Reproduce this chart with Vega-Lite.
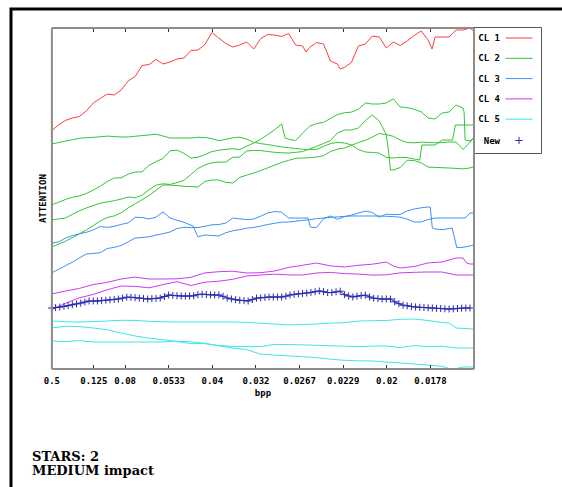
{
"$schema":"https://vega.github.io/schema/vega-lite/v6.json",
"width":551,"height":478,
"padding":{"left":11,"top":9,"right":0,"bottom":0},
"autosize":{"type":"none"},
"background":"white",
"config":{"view":{"stroke":"black","strokeWidth":3,"strokeDash":[551,1029,478]},"axis":{"grid":false}},
"title":{"text":["STARS: 2","MEDIUM impact"],"orient":"bottom","anchor":"start","frame":"group","font":"DejaVu Serif","fontSize":13,"fontWeight":"bold","color":"black","dx":21,"dy":-26,"offset":0,"baseline":"alphabetic","lineHeight":14},
"datasets":{"d":[
{"c":"CL 1","l":"a","x":2,"y":237.5},{"c":"CL 1","l":"a","x":3,"y":243.5},{"c":"CL 1","l":"a","x":4,"y":248},{"c":"CL 1","l":"a","x":5,"y":250.5},{"c":"CL 1","l":"a","x":6,"y":252},{"c":"CL 1","l":"a","x":7,"y":257.5},{"c":"CL 1","l":"a","x":8,"y":265.5},{"c":"CL 1","l":"a","x":9,"y":270},{"c":"CL 1","l":"a","x":10,"y":274.5},{"c":"CL 1","l":"a","x":11,"y":273.5},{"c":"CL 1","l":"a","x":12,"y":278.5},{"c":"CL 1","l":"a","x":13,"y":287.5},{"c":"CL 1","l":"a","x":14,"y":292},{"c":"CL 1","l":"a","x":15,"y":303},{"c":"CL 1","l":"a","x":16,"y":304},{"c":"CL 1","l":"a","x":17,"y":309},{"c":"CL 1","l":"a","x":18,"y":304.5},{"c":"CL 1","l":"a","x":19,"y":306.5},{"c":"CL 1","l":"a","x":20,"y":309.5},{"c":"CL 1","l":"a","x":21,"y":310.5},{"c":"CL 1","l":"a","x":22,"y":318},{"c":"CL 1","l":"a","x":23,"y":318.5},{"c":"CL 1","l":"a","x":24,"y":324},{"c":"CL 1","l":"a","x":25,"y":336},{"c":"CL 1","l":"a","x":26,"y":330.5},{"c":"CL 1","l":"a","x":27,"y":325},{"c":"CL 1","l":"a","x":28,"y":321.5},{"c":"CL 1","l":"a","x":29,"y":323.5},{"c":"CL 1","l":"a","x":30,"y":326.5},{"c":"CL 1","l":"a","x":31,"y":319.5},{"c":"CL 1","l":"a","x":32,"y":330},{"c":"CL 1","l":"a","x":33,"y":334},{"c":"CL 1","l":"a","x":34,"y":333.5},{"c":"CL 1","l":"a","x":35,"y":332},{"c":"CL 1","l":"a","x":36,"y":335},{"c":"CL 1","l":"a","x":37,"y":323.5},{"c":"CL 1","l":"a","x":38,"y":322.5},{"c":"CL 1","l":"a","x":38.5,"y":316.5},{"c":"CL 1","l":"a","x":39,"y":321},{"c":"CL 1","l":"a","x":40,"y":326},{"c":"CL 1","l":"a","x":41,"y":324.5},{"c":"CL 1","l":"a","x":42,"y":307.5},{"c":"CL 1","l":"a","x":43,"y":304.5},{"c":"CL 1","l":"a","x":43.4,"y":299.5},{"c":"CL 1","l":"a","x":44,"y":301},{"c":"CL 1","l":"a","x":45,"y":306},{"c":"CL 1","l":"a","x":46,"y":322.5},{"c":"CL 1","l":"a","x":47,"y":324.5},{"c":"CL 1","l":"a","x":48,"y":332.5},{"c":"CL 1","l":"a","x":49,"y":331.5},{"c":"CL 1","l":"a","x":50,"y":320.5},{"c":"CL 1","l":"a","x":51,"y":326.5},{"c":"CL 1","l":"a","x":52,"y":323},{"c":"CL 1","l":"a","x":53,"y":327.5},{"c":"CL 1","l":"a","x":54,"y":333},{"c":"CL 1","l":"a","x":55,"y":337.5},{"c":"CL 1","l":"a","x":56,"y":328.5},{"c":"CL 1","l":"a","x":56.55,"y":319.5},{"c":"CL 1","l":"a","x":57,"y":331.5},{"c":"CL 1","l":"a","x":58,"y":331.5},{"c":"CL 1","l":"a","x":59,"y":331.5},{"c":"CL 1","l":"a","x":60,"y":338.5},{"c":"CL 1","l":"a","x":61,"y":338.5},{"c":"CL 1","l":"a","x":62,"y":340.5},{"c":"CL 1","l":"a","x":62.5,"y":337.5},
{"c":"CL 2","l":"g1","x":2,"y":224.5},{"c":"CL 2","l":"g1","x":3,"y":225.9},{"c":"CL 2","l":"g1","x":4,"y":227.4},{"c":"CL 2","l":"g1","x":5,"y":228.7},{"c":"CL 2","l":"g1","x":6,"y":230.3},{"c":"CL 2","l":"g1","x":7,"y":230.8},{"c":"CL 2","l":"g1","x":8,"y":231.2},{"c":"CL 2","l":"g1","x":9,"y":231.7},{"c":"CL 2","l":"g1","x":10,"y":232.4},{"c":"CL 2","l":"g1","x":11,"y":231.9},{"c":"CL 2","l":"g1","x":12,"y":231.5},{"c":"CL 2","l":"g1","x":13,"y":231.5},{"c":"CL 2","l":"g1","x":14,"y":232.2},{"c":"CL 2","l":"g1","x":15,"y":232.9},{"c":"CL 2","l":"g1","x":16,"y":233.6},{"c":"CL 2","l":"g1","x":17,"y":234.3},{"c":"CL 2","l":"g1","x":18,"y":232.5},{"c":"CL 2","l":"g1","x":19,"y":230.5},{"c":"CL 2","l":"g1","x":20,"y":230.5},{"c":"CL 2","l":"g1","x":21,"y":230.5},{"c":"CL 2","l":"g1","x":22,"y":230.5},{"c":"CL 2","l":"g1","x":23,"y":231.2},{"c":"CL 2","l":"g1","x":24,"y":231},{"c":"CL 2","l":"g1","x":25,"y":229.9},{"c":"CL 2","l":"g1","x":26,"y":227.8},{"c":"CL 2","l":"g1","x":27,"y":229.2},{"c":"CL 2","l":"g1","x":28,"y":230.7},{"c":"CL 2","l":"g1","x":29,"y":231.3},{"c":"CL 2","l":"g1","x":30,"y":229.4},{"c":"CL 2","l":"g1","x":31,"y":226.1},{"c":"CL 2","l":"g1","x":32,"y":224.9},{"c":"CL 2","l":"g1","x":33,"y":223.9},{"c":"CL 2","l":"g1","x":34,"y":222.8},{"c":"CL 2","l":"g1","x":35,"y":221.6},{"c":"CL 2","l":"g1","x":36,"y":220.8},{"c":"CL 2","l":"g1","x":37,"y":220},{"c":"CL 2","l":"g1","x":38,"y":219.3},{"c":"CL 2","l":"g1","x":39,"y":218.9},{"c":"CL 2","l":"g1","x":40,"y":219.1},{"c":"CL 2","l":"g1","x":41,"y":222},{"c":"CL 2","l":"g1","x":42,"y":224.9},{"c":"CL 2","l":"g1","x":43,"y":226.2},{"c":"CL 2","l":"g1","x":44,"y":225.5},{"c":"CL 2","l":"g1","x":45,"y":223.6},{"c":"CL 2","l":"g1","x":46,"y":219},{"c":"CL 2","l":"g1","x":47,"y":216.5},{"c":"CL 2","l":"g1","x":48,"y":216},{"c":"CL 2","l":"g1","x":49,"y":215.3},{"c":"CL 2","l":"g1","x":50,"y":211.2},{"c":"CL 2","l":"g1","x":51,"y":210.5},{"c":"CL 2","l":"g1","x":52,"y":211.2},{"c":"CL 2","l":"g1","x":53,"y":210.9},{"c":"CL 2","l":"g1","x":54,"y":209.5},{"c":"CL 2","l":"g1","x":54.8,"y":208.5},{"c":"CL 2","l":"g1","x":55.1,"y":223.5},{"c":"CL 2","l":"g1","x":56,"y":223.5},{"c":"CL 2","l":"g1","x":57,"y":223.5},{"c":"CL 2","l":"g1","x":58,"y":228.5},{"c":"CL 2","l":"g1","x":59,"y":228.5},{"c":"CL 2","l":"g1","x":59.5,"y":228.5},{"c":"CL 2","l":"g1","x":59.9,"y":243.5},{"c":"CL 2","l":"g1","x":60,"y":243.5},{"c":"CL 2","l":"g1","x":61,"y":243.5},{"c":"CL 2","l":"g1","x":62,"y":243.5},{"c":"CL 2","l":"g1","x":62.5,"y":243.5},
{"c":"CL 2","l":"g2","x":2,"y":163.5},{"c":"CL 2","l":"g2","x":3,"y":166.1},{"c":"CL 2","l":"g2","x":4,"y":169},{"c":"CL 2","l":"g2","x":5,"y":171.2},{"c":"CL 2","l":"g2","x":6,"y":172.6},{"c":"CL 2","l":"g2","x":7,"y":175},{"c":"CL 2","l":"g2","x":8,"y":178.5},{"c":"CL 2","l":"g2","x":9,"y":182.3},{"c":"CL 2","l":"g2","x":10,"y":186.9},{"c":"CL 2","l":"g2","x":11,"y":190.5},{"c":"CL 2","l":"g2","x":12,"y":190.7},{"c":"CL 2","l":"g2","x":13,"y":194.3},{"c":"CL 2","l":"g2","x":14,"y":196.5},{"c":"CL 2","l":"g2","x":15,"y":196.7},{"c":"CL 2","l":"g2","x":16,"y":203.2},{"c":"CL 2","l":"g2","x":17,"y":206.9},{"c":"CL 2","l":"g2","x":18,"y":210},{"c":"CL 2","l":"g2","x":19,"y":217.7},{"c":"CL 2","l":"g2","x":20,"y":218.4},{"c":"CL 2","l":"g2","x":21,"y":215.1},{"c":"CL 2","l":"g2","x":22,"y":210.5},{"c":"CL 2","l":"g2","x":23,"y":211.3},{"c":"CL 2","l":"g2","x":24,"y":213.9},{"c":"CL 2","l":"g2","x":25,"y":216.9},{"c":"CL 2","l":"g2","x":26,"y":218.3},{"c":"CL 2","l":"g2","x":27,"y":219.2},{"c":"CL 2","l":"g2","x":28,"y":219.7},{"c":"CL 2","l":"g2","x":29,"y":219},{"c":"CL 2","l":"g2","x":30,"y":222.4},{"c":"CL 2","l":"g2","x":31,"y":225.4},{"c":"CL 2","l":"g2","x":32,"y":229.3},{"c":"CL 2","l":"g2","x":33,"y":234},{"c":"CL 2","l":"g2","x":34,"y":238.7},{"c":"CL 2","l":"g2","x":35,"y":244.5},{"c":"CL 2","l":"g2","x":35.5,"y":230.5},{"c":"CL 2","l":"g2","x":36,"y":229.4},{"c":"CL 2","l":"g2","x":37,"y":227.9},{"c":"CL 2","l":"g2","x":38,"y":235.4},{"c":"CL 2","l":"g2","x":39,"y":242.2},{"c":"CL 2","l":"g2","x":40,"y":245},{"c":"CL 2","l":"g2","x":41,"y":246.1},{"c":"CL 2","l":"g2","x":42,"y":250},{"c":"CL 2","l":"g2","x":43,"y":254},{"c":"CL 2","l":"g2","x":44,"y":255.7},{"c":"CL 2","l":"g2","x":45,"y":256.4},{"c":"CL 2","l":"g2","x":46,"y":259.2},{"c":"CL 2","l":"g2","x":47,"y":265.5},{"c":"CL 2","l":"g2","x":48,"y":264.5},{"c":"CL 2","l":"g2","x":49,"y":264.5},{"c":"CL 2","l":"g2","x":50,"y":265.5},{"c":"CL 2","l":"g2","x":51,"y":269.7},{"c":"CL 2","l":"g2","x":52,"y":261.5},{"c":"CL 2","l":"g2","x":53,"y":260.9},{"c":"CL 2","l":"g2","x":54,"y":259.2},{"c":"CL 2","l":"g2","x":55,"y":256.7},{"c":"CL 2","l":"g2","x":56,"y":250.5},{"c":"CL 2","l":"g2","x":57,"y":249.5},{"c":"CL 2","l":"g2","x":58,"y":255.5},{"c":"CL 2","l":"g2","x":59,"y":256.5},{"c":"CL 2","l":"g2","x":60,"y":263.5},{"c":"CL 2","l":"g2","x":61,"y":260.5},{"c":"CL 2","l":"g2","x":61.15,"y":256.5},{"c":"CL 2","l":"g2","x":61.3,"y":228.5},{"c":"CL 2","l":"g2","x":62,"y":227.5},{"c":"CL 2","l":"g2","x":62.5,"y":230.5},
{"c":"CL 2","l":"g3","x":2,"y":148.5},{"c":"CL 2","l":"g3","x":3,"y":149.5},{"c":"CL 2","l":"g3","x":4,"y":150.5},{"c":"CL 2","l":"g3","x":5,"y":154.1},{"c":"CL 2","l":"g3","x":6,"y":157.6},{"c":"CL 2","l":"g3","x":7,"y":160.5},{"c":"CL 2","l":"g3","x":8,"y":163},{"c":"CL 2","l":"g3","x":9,"y":165.3},{"c":"CL 2","l":"g3","x":10,"y":166.6},{"c":"CL 2","l":"g3","x":11,"y":167.8},{"c":"CL 2","l":"g3","x":12,"y":169.4},{"c":"CL 2","l":"g3","x":13,"y":171.5},{"c":"CL 2","l":"g3","x":14,"y":170.8},{"c":"CL 2","l":"g3","x":15,"y":173.4},{"c":"CL 2","l":"g3","x":16,"y":178.8},{"c":"CL 2","l":"g3","x":17,"y":183.3},{"c":"CL 2","l":"g3","x":18,"y":184.7},{"c":"CL 2","l":"g3","x":19,"y":184.1},{"c":"CL 2","l":"g3","x":20,"y":185.8},{"c":"CL 2","l":"g3","x":21,"y":188.2},{"c":"CL 2","l":"g3","x":22,"y":194},{"c":"CL 2","l":"g3","x":23,"y":200},{"c":"CL 2","l":"g3","x":24,"y":203.5},{"c":"CL 2","l":"g3","x":25,"y":205.7},{"c":"CL 2","l":"g3","x":26,"y":206.4},{"c":"CL 2","l":"g3","x":27,"y":206.5},{"c":"CL 2","l":"g3","x":28,"y":211.2},{"c":"CL 2","l":"g3","x":29,"y":211.5},{"c":"CL 2","l":"g3","x":30,"y":217.5},{"c":"CL 2","l":"g3","x":31,"y":218},{"c":"CL 2","l":"g3","x":32,"y":218},{"c":"CL 2","l":"g3","x":33,"y":217},{"c":"CL 2","l":"g3","x":34,"y":216.2},{"c":"CL 2","l":"g3","x":35,"y":215.7},{"c":"CL 2","l":"g3","x":36,"y":215.5},{"c":"CL 2","l":"g3","x":37,"y":216.1},{"c":"CL 2","l":"g3","x":38,"y":217},{"c":"CL 2","l":"g3","x":39,"y":219.5},{"c":"CL 2","l":"g3","x":40,"y":222.1},{"c":"CL 2","l":"g3","x":41,"y":225},{"c":"CL 2","l":"g3","x":42,"y":227.9},{"c":"CL 2","l":"g3","x":43,"y":235.5},{"c":"CL 2","l":"g3","x":44,"y":238.5},{"c":"CL 2","l":"g3","x":45,"y":238.5},{"c":"CL 2","l":"g3","x":46,"y":240.5},{"c":"CL 2","l":"g3","x":47,"y":248},{"c":"CL 2","l":"g3","x":48,"y":253.5},{"c":"CL 2","l":"g3","x":49,"y":247.5},{"c":"CL 2","l":"g3","x":50,"y":234},{"c":"CL 2","l":"g3","x":50.3,"y":218.5},{"c":"CL 2","l":"g3","x":50.6,"y":198.5},{"c":"CL 2","l":"g3","x":51,"y":198.5},{"c":"CL 2","l":"g3","x":52,"y":201},{"c":"CL 2","l":"g3","x":53,"y":208.3},{"c":"CL 2","l":"g3","x":54,"y":207.9},{"c":"CL 2","l":"g3","x":55,"y":205.7},{"c":"CL 2","l":"g3","x":56,"y":201.4},{"c":"CL 2","l":"g3","x":57,"y":201.1},{"c":"CL 2","l":"g3","x":58,"y":200.8},{"c":"CL 2","l":"g3","x":59,"y":200.5},{"c":"CL 2","l":"g3","x":60,"y":200.1},{"c":"CL 2","l":"g3","x":61,"y":199.6},{"c":"CL 2","l":"g3","x":62,"y":200.6},{"c":"CL 2","l":"g3","x":62.5,"y":201.5},
{"c":"CL 2","l":"g4","x":2,"y":121.5},{"c":"CL 2","l":"g4","x":3,"y":124.3},{"c":"CL 2","l":"g4","x":4,"y":127.2},{"c":"CL 2","l":"g4","x":5,"y":130.9},{"c":"CL 2","l":"g4","x":6,"y":134.6},{"c":"CL 2","l":"g4","x":7,"y":138.6},{"c":"CL 2","l":"g4","x":8,"y":142.9},{"c":"CL 2","l":"g4","x":9,"y":147.5},{"c":"CL 2","l":"g4","x":10,"y":151},{"c":"CL 2","l":"g4","x":11,"y":152.6},{"c":"CL 2","l":"g4","x":12,"y":155.7},{"c":"CL 2","l":"g4","x":13,"y":160.6},{"c":"CL 2","l":"g4","x":14,"y":164.6},{"c":"CL 2","l":"g4","x":15,"y":168.8},{"c":"CL 2","l":"g4","x":16,"y":173.1},{"c":"CL 2","l":"g4","x":17,"y":178.2},{"c":"CL 2","l":"g4","x":18,"y":183.5},{"c":"CL 2","l":"g4","x":19,"y":183.5},{"c":"CL 2","l":"g4","x":20,"y":182.9},{"c":"CL 2","l":"g4","x":21,"y":182.2},{"c":"CL 2","l":"g4","x":22,"y":182},{"c":"CL 2","l":"g4","x":23,"y":181.4},{"c":"CL 2","l":"g4","x":24,"y":187},{"c":"CL 2","l":"g4","x":25,"y":188.5},{"c":"CL 2","l":"g4","x":26,"y":188.5},{"c":"CL 2","l":"g4","x":27,"y":186.2},{"c":"CL 2","l":"g4","x":28,"y":185.5},{"c":"CL 2","l":"g4","x":29,"y":191.1},{"c":"CL 2","l":"g4","x":30,"y":193.4},{"c":"CL 2","l":"g4","x":31,"y":195.5},{"c":"CL 2","l":"g4","x":32,"y":197.9},{"c":"CL 2","l":"g4","x":33,"y":200.6},{"c":"CL 2","l":"g4","x":34,"y":203.3},{"c":"CL 2","l":"g4","x":35,"y":206.1},{"c":"CL 2","l":"g4","x":36,"y":208.1},{"c":"CL 2","l":"g4","x":37,"y":210.1},{"c":"CL 2","l":"g4","x":38,"y":210.5},{"c":"CL 2","l":"g4","x":39,"y":210.8},{"c":"CL 2","l":"g4","x":40,"y":211.5},{"c":"CL 2","l":"g4","x":41,"y":212.8},{"c":"CL 2","l":"g4","x":42,"y":217},{"c":"CL 2","l":"g4","x":43,"y":219.3},{"c":"CL 2","l":"g4","x":44,"y":220.5},{"c":"CL 2","l":"g4","x":45,"y":223.1},{"c":"CL 2","l":"g4","x":46,"y":225.9},{"c":"CL 2","l":"g4","x":47,"y":228.2},{"c":"CL 2","l":"g4","x":48,"y":231.5},{"c":"CL 2","l":"g4","x":49,"y":235},{"c":"CL 2","l":"g4","x":50,"y":233.9},{"c":"CL 2","l":"g4","x":51,"y":232.2},{"c":"CL 2","l":"g4","x":52,"y":228.5},{"c":"CL 2","l":"g4","x":53,"y":226},{"c":"CL 2","l":"g4","x":54,"y":225.7},{"c":"CL 2","l":"g4","x":55,"y":226.4},{"c":"CL 2","l":"g4","x":56,"y":226.1},{"c":"CL 2","l":"g4","x":57,"y":225.7},{"c":"CL 2","l":"g4","x":58,"y":225.9},{"c":"CL 2","l":"g4","x":59,"y":226.5},{"c":"CL 2","l":"g4","x":60,"y":226.5},{"c":"CL 2","l":"g4","x":61,"y":219},{"c":"CL 2","l":"g4","x":62,"y":226.2},{"c":"CL 2","l":"g4","x":62.5,"y":230.5},
{"c":"CL 3","l":"b1","x":2,"y":125.5},{"c":"CL 3","l":"b1","x":3,"y":126.5},{"c":"CL 3","l":"b1","x":4,"y":130.3},{"c":"CL 3","l":"b1","x":5,"y":132.8},{"c":"CL 3","l":"b1","x":6,"y":134.8},{"c":"CL 3","l":"b1","x":7,"y":136.2},{"c":"CL 3","l":"b1","x":8,"y":138.6},{"c":"CL 3","l":"b1","x":9,"y":142},{"c":"CL 3","l":"b1","x":10,"y":141.1},{"c":"CL 3","l":"b1","x":11,"y":142.1},{"c":"CL 3","l":"b1","x":12,"y":144.1},{"c":"CL 3","l":"b1","x":13,"y":145.6},{"c":"CL 3","l":"b1","x":14,"y":151.2},{"c":"CL 3","l":"b1","x":15,"y":151},{"c":"CL 3","l":"b1","x":16,"y":149.6},{"c":"CL 3","l":"b1","x":17,"y":151.3},{"c":"CL 3","l":"b1","x":18,"y":156.5},{"c":"CL 3","l":"b1","x":19,"y":150.6},{"c":"CL 3","l":"b1","x":20,"y":148.2},{"c":"CL 3","l":"b1","x":21,"y":146.2},{"c":"CL 3","l":"b1","x":22,"y":143.3},{"c":"CL 3","l":"b1","x":22.3,"y":142.5},{"c":"CL 3","l":"b1","x":23,"y":131.7},{"c":"CL 3","l":"b1","x":24,"y":133.5},{"c":"CL 3","l":"b1","x":25,"y":133},{"c":"CL 3","l":"b1","x":26,"y":132.6},{"c":"CL 3","l":"b1","x":27,"y":135.8},{"c":"CL 3","l":"b1","x":28,"y":137.7},{"c":"CL 3","l":"b1","x":29,"y":138.9},{"c":"CL 3","l":"b1","x":30,"y":140.3},{"c":"CL 3","l":"b1","x":31,"y":141.1},{"c":"CL 3","l":"b1","x":32,"y":142.4},{"c":"CL 3","l":"b1","x":33,"y":144},{"c":"CL 3","l":"b1","x":34,"y":145.2},{"c":"CL 3","l":"b1","x":35,"y":146.3},{"c":"CL 3","l":"b1","x":36,"y":146.5},{"c":"CL 3","l":"b1","x":37,"y":147.3},{"c":"CL 3","l":"b1","x":38,"y":148.1},{"c":"CL 3","l":"b1","x":39,"y":148.8},{"c":"CL 3","l":"b1","x":40,"y":149.8},{"c":"CL 3","l":"b1","x":41,"y":150.5},{"c":"CL 3","l":"b1","x":42,"y":151.1},{"c":"CL 3","l":"b1","x":43,"y":151.6},{"c":"CL 3","l":"b1","x":44,"y":152.1},{"c":"CL 3","l":"b1","x":45,"y":152.5},{"c":"CL 3","l":"b1","x":46,"y":152.5},{"c":"CL 3","l":"b1","x":47,"y":152.5},{"c":"CL 3","l":"b1","x":48,"y":152.5},{"c":"CL 3","l":"b1","x":49,"y":152.5},{"c":"CL 3","l":"b1","x":50,"y":152.2},{"c":"CL 3","l":"b1","x":51,"y":151.9},{"c":"CL 3","l":"b1","x":52,"y":151.3},{"c":"CL 3","l":"b1","x":53,"y":149.4},{"c":"CL 3","l":"b1","x":54,"y":146.5},{"c":"CL 3","l":"b1","x":55,"y":146.5},{"c":"CL 3","l":"b1","x":56,"y":149},{"c":"CL 3","l":"b1","x":57,"y":150.5},{"c":"CL 3","l":"b1","x":58,"y":150.5},{"c":"CL 3","l":"b1","x":59,"y":150.5},{"c":"CL 3","l":"b1","x":60,"y":150.5},{"c":"CL 3","l":"b1","x":61,"y":150.5},{"c":"CL 3","l":"b1","x":61.3,"y":150.5},{"c":"CL 3","l":"b1","x":62,"y":155.5},{"c":"CL 3","l":"b1","x":62.5,"y":155.5},
{"c":"CL 3","l":"b2","x":2,"y":95.5},{"c":"CL 3","l":"b2","x":3,"y":99.1},{"c":"CL 3","l":"b2","x":4,"y":102.7},{"c":"CL 3","l":"b2","x":5,"y":106.3},{"c":"CL 3","l":"b2","x":6,"y":110.5},{"c":"CL 3","l":"b2","x":7,"y":114.5},{"c":"CL 3","l":"b2","x":8,"y":115},{"c":"CL 3","l":"b2","x":9,"y":115.8},{"c":"CL 3","l":"b2","x":10,"y":120},{"c":"CL 3","l":"b2","x":11,"y":121.1},{"c":"CL 3","l":"b2","x":12,"y":123.1},{"c":"CL 3","l":"b2","x":13,"y":126.6},{"c":"CL 3","l":"b2","x":14,"y":130.5},{"c":"CL 3","l":"b2","x":15,"y":131},{"c":"CL 3","l":"b2","x":16,"y":131.7},{"c":"CL 3","l":"b2","x":17,"y":133.4},{"c":"CL 3","l":"b2","x":18,"y":134.8},{"c":"CL 3","l":"b2","x":19,"y":136.5},{"c":"CL 3","l":"b2","x":20,"y":140},{"c":"CL 3","l":"b2","x":21,"y":141.1},{"c":"CL 3","l":"b2","x":22,"y":140.9},{"c":"CL 3","l":"b2","x":23,"y":141},{"c":"CL 3","l":"b2","x":24,"y":142.2},{"c":"CL 3","l":"b2","x":25,"y":143.7},{"c":"CL 3","l":"b2","x":26,"y":144},{"c":"CL 3","l":"b2","x":27,"y":145.4},{"c":"CL 3","l":"b2","x":28,"y":150.5},{"c":"CL 3","l":"b2","x":29,"y":149.6},{"c":"CL 3","l":"b2","x":30,"y":148.9},{"c":"CL 3","l":"b2","x":31,"y":149.5},{"c":"CL 3","l":"b2","x":32,"y":152.3},{"c":"CL 3","l":"b2","x":33,"y":155.6},{"c":"CL 3","l":"b2","x":34,"y":157},{"c":"CL 3","l":"b2","x":35,"y":156.3},{"c":"CL 3","l":"b2","x":36,"y":150.5},{"c":"CL 3","l":"b2","x":37,"y":150.5},{"c":"CL 3","l":"b2","x":38,"y":150.5},{"c":"CL 3","l":"b2","x":38.8,"y":150.5},{"c":"CL 3","l":"b2","x":39.1,"y":141.5},{"c":"CL 3","l":"b2","x":40,"y":140.8},{"c":"CL 3","l":"b2","x":41,"y":149.8},{"c":"CL 3","l":"b2","x":42,"y":152.5},{"c":"CL 3","l":"b2","x":43,"y":149.2},{"c":"CL 3","l":"b2","x":44,"y":151.9},{"c":"CL 3","l":"b2","x":45,"y":153.3},{"c":"CL 3","l":"b2","x":46,"y":155.5},{"c":"CL 3","l":"b2","x":47,"y":157.4},{"c":"CL 3","l":"b2","x":48,"y":156},{"c":"CL 3","l":"b2","x":49,"y":151.2},{"c":"CL 3","l":"b2","x":50,"y":154.4},{"c":"CL 3","l":"b2","x":51,"y":153.9},{"c":"CL 3","l":"b2","x":52,"y":154.1},{"c":"CL 3","l":"b2","x":53,"y":157.6},{"c":"CL 3","l":"b2","x":54,"y":159.5},{"c":"CL 3","l":"b2","x":55,"y":160.7},{"c":"CL 3","l":"b2","x":56,"y":161.5},{"c":"CL 3","l":"b2","x":56.3,"y":161.5},{"c":"CL 3","l":"b2","x":56.6,"y":140.5},{"c":"CL 3","l":"b2","x":57,"y":139.6},{"c":"CL 3","l":"b2","x":58,"y":138.8},{"c":"CL 3","l":"b2","x":59,"y":140},{"c":"CL 3","l":"b2","x":59.45,"y":140.5},{"c":"CL 3","l":"b2","x":60.1,"y":121},{"c":"CL 3","l":"b2","x":61,"y":121.2},{"c":"CL 3","l":"b2","x":62,"y":122.5},{"c":"CL 3","l":"b2","x":62.5,"y":123.5},
{"c":"CL 4","l":"m1","x":2,"y":74.5},{"c":"CL 4","l":"m1","x":4,"y":77.4},{"c":"CL 4","l":"m1","x":6,"y":80.1},{"c":"CL 4","l":"m1","x":8,"y":84},{"c":"CL 4","l":"m1","x":10,"y":86.1},{"c":"CL 4","l":"m1","x":12,"y":89.5},{"c":"CL 4","l":"m1","x":14,"y":91.4},{"c":"CL 4","l":"m1","x":16,"y":89.5},{"c":"CL 4","l":"m1","x":18,"y":89.5},{"c":"CL 4","l":"m1","x":20,"y":89.7},{"c":"CL 4","l":"m1","x":22,"y":91.2},{"c":"CL 4","l":"m1","x":24,"y":95.6},{"c":"CL 4","l":"m1","x":26,"y":96.8},{"c":"CL 4","l":"m1","x":28,"y":97.3},{"c":"CL 4","l":"m1","x":30,"y":95.5},{"c":"CL 4","l":"m1","x":32,"y":95.8},{"c":"CL 4","l":"m1","x":34,"y":97.5},{"c":"CL 4","l":"m1","x":36,"y":101.1},{"c":"CL 4","l":"m1","x":38,"y":103.2},{"c":"CL 4","l":"m1","x":40,"y":105.5},{"c":"CL 4","l":"m1","x":42,"y":102.6},{"c":"CL 4","l":"m1","x":44,"y":101.5},{"c":"CL 4","l":"m1","x":46,"y":103.2},{"c":"CL 4","l":"m1","x":48,"y":104.3},{"c":"CL 4","l":"m1","x":50,"y":106.5},{"c":"CL 4","l":"m1","x":51,"y":102.5},{"c":"CL 4","l":"m1","x":52,"y":100.5},{"c":"CL 4","l":"m1","x":54,"y":102},{"c":"CL 4","l":"m1","x":56,"y":105.6},{"c":"CL 4","l":"m1","x":58,"y":106.5},{"c":"CL 4","l":"m1","x":60,"y":110.5},{"c":"CL 4","l":"m1","x":61,"y":110.5},{"c":"CL 4","l":"m1","x":61.5,"y":105.5},{"c":"CL 4","l":"m1","x":62,"y":104.5},{"c":"CL 4","l":"m1","x":62.5,"y":104.5},
{"c":"CL 4","l":"m2","x":2,"y":58.5},{"c":"CL 4","l":"m2","x":4,"y":65.1},{"c":"CL 4","l":"m2","x":6,"y":70.7},{"c":"CL 4","l":"m2","x":8,"y":74.1},{"c":"CL 4","l":"m2","x":10,"y":78.7},{"c":"CL 4","l":"m2","x":12,"y":82.5},{"c":"CL 4","l":"m2","x":14,"y":82.1},{"c":"CL 4","l":"m2","x":16,"y":80.7},{"c":"CL 4","l":"m2","x":18,"y":83.9},{"c":"CL 4","l":"m2","x":20,"y":86.8},{"c":"CL 4","l":"m2","x":22,"y":83},{"c":"CL 4","l":"m2","x":24,"y":86.3},{"c":"CL 4","l":"m2","x":26,"y":87.3},{"c":"CL 4","l":"m2","x":28,"y":89.2},{"c":"CL 4","l":"m2","x":30,"y":92.5},{"c":"CL 4","l":"m2","x":32,"y":93.5},{"c":"CL 4","l":"m2","x":34,"y":94.3},{"c":"CL 4","l":"m2","x":36,"y":93.6},{"c":"CL 4","l":"m2","x":38,"y":93.5},{"c":"CL 4","l":"m2","x":40,"y":95.5},{"c":"CL 4","l":"m2","x":42,"y":96.1},{"c":"CL 4","l":"m2","x":44,"y":94.9},{"c":"CL 4","l":"m2","x":46,"y":94.4},{"c":"CL 4","l":"m2","x":48,"y":93.4},{"c":"CL 4","l":"m2","x":50,"y":93.7},{"c":"CL 4","l":"m2","x":52,"y":95.6},{"c":"CL 4","l":"m2","x":54,"y":96.2},{"c":"CL 4","l":"m2","x":56,"y":96.5},{"c":"CL 4","l":"m2","x":58,"y":96.5},{"c":"CL 4","l":"m2","x":60,"y":93.5},{"c":"CL 4","l":"m2","x":62,"y":93.5},{"c":"CL 4","l":"m2","x":62.5,"y":93.5},
{"c":"CL 5","l":"c1","x":2,"y":47.5},{"c":"CL 5","l":"c1","x":4,"y":46.8},{"c":"CL 5","l":"c1","x":6,"y":46.5},{"c":"CL 5","l":"c1","x":8,"y":46.9},{"c":"CL 5","l":"c1","x":10,"y":47.5},{"c":"CL 5","l":"c1","x":12,"y":48.2},{"c":"CL 5","l":"c1","x":14,"y":48.1},{"c":"CL 5","l":"c1","x":16,"y":47.2},{"c":"CL 5","l":"c1","x":18,"y":46.8},{"c":"CL 5","l":"c1","x":20,"y":46.5},{"c":"CL 5","l":"c1","x":22,"y":46.5},{"c":"CL 5","l":"c1","x":24,"y":46.5},{"c":"CL 5","l":"c1","x":26,"y":46.5},{"c":"CL 5","l":"c1","x":28,"y":46.5},{"c":"CL 5","l":"c1","x":30,"y":46.1},{"c":"CL 5","l":"c1","x":32,"y":45.3},{"c":"CL 5","l":"c1","x":34,"y":44.4},{"c":"CL 5","l":"c1","x":36,"y":43.6},{"c":"CL 5","l":"c1","x":38,"y":44},{"c":"CL 5","l":"c1","x":40,"y":44.5},{"c":"CL 5","l":"c1","x":42,"y":45.3},{"c":"CL 5","l":"c1","x":44,"y":45.9},{"c":"CL 5","l":"c1","x":46,"y":47.4},{"c":"CL 5","l":"c1","x":48,"y":47.8},{"c":"CL 5","l":"c1","x":50,"y":48},{"c":"CL 5","l":"c1","x":52,"y":49.2},{"c":"CL 5","l":"c1","x":54,"y":49.5},{"c":"CL 5","l":"c1","x":56,"y":48},{"c":"CL 5","l":"c1","x":58,"y":45.9},{"c":"CL 5","l":"c1","x":59,"y":45.5},{"c":"CL 5","l":"c1","x":60,"y":40.5},{"c":"CL 5","l":"c1","x":62,"y":39.7},{"c":"CL 5","l":"c1","x":62.5,"y":39.5},
{"c":"CL 5","l":"c2","x":2,"y":40.5},{"c":"CL 5","l":"c2","x":4,"y":42.2},{"c":"CL 5","l":"c2","x":6,"y":41.9},{"c":"CL 5","l":"c2","x":8,"y":40.5},{"c":"CL 5","l":"c2","x":10,"y":38.8},{"c":"CL 5","l":"c2","x":12,"y":35.5},{"c":"CL 5","l":"c2","x":14,"y":32.5},{"c":"CL 5","l":"c2","x":16,"y":30.4},{"c":"CL 5","l":"c2","x":18,"y":28.7},{"c":"CL 5","l":"c2","x":20,"y":27},{"c":"CL 5","l":"c2","x":22,"y":24.9},{"c":"CL 5","l":"c2","x":24,"y":24.9},{"c":"CL 5","l":"c2","x":26,"y":23},{"c":"CL 5","l":"c2","x":28,"y":22.2},{"c":"CL 5","l":"c2","x":30,"y":21.8},{"c":"CL 5","l":"c2","x":32,"y":22},{"c":"CL 5","l":"c2","x":34,"y":24.1},{"c":"CL 5","l":"c2","x":36,"y":24},{"c":"CL 5","l":"c2","x":38,"y":23.6},{"c":"CL 5","l":"c2","x":40,"y":23.2},{"c":"CL 5","l":"c2","x":42,"y":22.7},{"c":"CL 5","l":"c2","x":44,"y":22.3},{"c":"CL 5","l":"c2","x":46,"y":21.8},{"c":"CL 5","l":"c2","x":48,"y":22.4},{"c":"CL 5","l":"c2","x":50,"y":22.5},{"c":"CL 5","l":"c2","x":52,"y":20.9},{"c":"CL 5","l":"c2","x":54,"y":22.9},{"c":"CL 5","l":"c2","x":56,"y":21.8},{"c":"CL 5","l":"c2","x":58,"y":22.3},{"c":"CL 5","l":"c2","x":60,"y":20.5},{"c":"CL 5","l":"c2","x":62,"y":20.5},{"c":"CL 5","l":"c2","x":62.5,"y":20.5},
{"c":"CL 5","l":"c3","x":2,"y":27.5},{"c":"CL 5","l":"c3","x":4,"y":26.9},{"c":"CL 5","l":"c3","x":6,"y":27.9},{"c":"CL 5","l":"c3","x":8,"y":26.5},{"c":"CL 5","l":"c3","x":10,"y":26.5},{"c":"CL 5","l":"c3","x":12,"y":26.5},{"c":"CL 5","l":"c3","x":14,"y":26.5},{"c":"CL 5","l":"c3","x":16,"y":26.5},{"c":"CL 5","l":"c3","x":18,"y":26.5},{"c":"CL 5","l":"c3","x":20,"y":27.3},{"c":"CL 5","l":"c3","x":22,"y":26.7},{"c":"CL 5","l":"c3","x":24,"y":25.1},{"c":"CL 5","l":"c3","x":26,"y":22.6},{"c":"CL 5","l":"c3","x":28,"y":20.5},{"c":"CL 5","l":"c3","x":30,"y":18.9},{"c":"CL 5","l":"c3","x":32,"y":14.3},{"c":"CL 5","l":"c3","x":34,"y":13.4},{"c":"CL 5","l":"c3","x":36,"y":12.6},{"c":"CL 5","l":"c3","x":38,"y":11.8},{"c":"CL 5","l":"c3","x":40,"y":10.9},{"c":"CL 5","l":"c3","x":42,"y":9.3},{"c":"CL 5","l":"c3","x":44,"y":8.2},{"c":"CL 5","l":"c3","x":46,"y":7.7},{"c":"CL 5","l":"c3","x":48,"y":7.5},{"c":"CL 5","l":"c3","x":50,"y":6.4},{"c":"CL 5","l":"c3","x":52,"y":5.6},{"c":"CL 5","l":"c3","x":54,"y":4.5},{"c":"CL 5","l":"c3","x":56,"y":3.4},{"c":"CL 5","l":"c3","x":58,"y":2.2},{"c":"CL 5","l":"c3","x":59,"y":-2.5},{"c":"CL 5","l":"c3","x":60,"y":-3.5},{"c":"CL 5","l":"c3","x":61,"y":1.5},{"c":"CL 5","l":"c3","x":62,"y":1.5},{"c":"CL 5","l":"c3","x":62.5,"y":1.5},
{"c":"New","l":"n","x":2,"y":60.5},{"c":"New","l":"n","x":2.6,"y":60.9},{"c":"New","l":"n","x":3.2,"y":61.4},{"c":"New","l":"n","x":3.8,"y":62.1},{"c":"New","l":"n","x":4.4,"y":62.9},{"c":"New","l":"n","x":5,"y":63.7},{"c":"New","l":"n","x":5.6,"y":64.6},{"c":"New","l":"n","x":6.2,"y":65.4},{"c":"New","l":"n","x":6.8,"y":66.5},{"c":"New","l":"n","x":7.4,"y":67.5},{"c":"New","l":"n","x":8,"y":67.5},{"c":"New","l":"n","x":8.6,"y":67.5},{"c":"New","l":"n","x":9.2,"y":67.9},{"c":"New","l":"n","x":9.8,"y":68.3},{"c":"New","l":"n","x":10.4,"y":68.7},{"c":"New","l":"n","x":11,"y":69.1},{"c":"New","l":"n","x":11.6,"y":69.5},{"c":"New","l":"n","x":12.2,"y":70.4},{"c":"New","l":"n","x":12.8,"y":71.3},{"c":"New","l":"n","x":13.4,"y":71.2},{"c":"New","l":"n","x":14,"y":70.8},{"c":"New","l":"n","x":14.6,"y":70.4},{"c":"New","l":"n","x":15.2,"y":70},{"c":"New","l":"n","x":15.8,"y":69.5},{"c":"New","l":"n","x":16.4,"y":69.8},{"c":"New","l":"n","x":17,"y":70.1},{"c":"New","l":"n","x":17.6,"y":70.5},{"c":"New","l":"n","x":18.2,"y":72},{"c":"New","l":"n","x":18.8,"y":73.5},{"c":"New","l":"n","x":19.4,"y":73.1},{"c":"New","l":"n","x":20,"y":72.8},{"c":"New","l":"n","x":20.6,"y":72.5},{"c":"New","l":"n","x":21.2,"y":72.5},{"c":"New","l":"n","x":21.8,"y":72.5},{"c":"New","l":"n","x":22.4,"y":72.7},{"c":"New","l":"n","x":23,"y":73.9},{"c":"New","l":"n","x":23.6,"y":74.3},{"c":"New","l":"n","x":24.2,"y":74},{"c":"New","l":"n","x":24.8,"y":73.7},{"c":"New","l":"n","x":25.4,"y":73.5},{"c":"New","l":"n","x":26,"y":73.5},{"c":"New","l":"n","x":26.6,"y":72.2},{"c":"New","l":"n","x":27.2,"y":70.5},{"c":"New","l":"n","x":27.8,"y":69.6},{"c":"New","l":"n","x":28.4,"y":68.8},{"c":"New","l":"n","x":29,"y":68.2},{"c":"New","l":"n","x":29.6,"y":67.9},{"c":"New","l":"n","x":30.2,"y":67.5},{"c":"New","l":"n","x":30.8,"y":69},{"c":"New","l":"n","x":31.4,"y":70.4},{"c":"New","l":"n","x":32,"y":70.7},{"c":"New","l":"n","x":32.6,"y":71.1},{"c":"New","l":"n","x":33.2,"y":71.5},{"c":"New","l":"n","x":33.8,"y":71.5},{"c":"New","l":"n","x":34.4,"y":71.5},{"c":"New","l":"n","x":35,"y":71.5},{"c":"New","l":"n","x":35.6,"y":72.3},{"c":"New","l":"n","x":36.2,"y":73.5},{"c":"New","l":"n","x":36.8,"y":74.1},{"c":"New","l":"n","x":37.4,"y":74.6},{"c":"New","l":"n","x":38,"y":75.1},{"c":"New","l":"n","x":38.6,"y":75.5},{"c":"New","l":"n","x":39.2,"y":76.1},{"c":"New","l":"n","x":39.8,"y":76.8},{"c":"New","l":"n","x":40.4,"y":77.5},{"c":"New","l":"n","x":41,"y":76.8},{"c":"New","l":"n","x":41.6,"y":76},{"c":"New","l":"n","x":42.2,"y":75.9},{"c":"New","l":"n","x":42.8,"y":76.7},{"c":"New","l":"n","x":43.4,"y":77.3},{"c":"New","l":"n","x":44,"y":73.9},{"c":"New","l":"n","x":44.6,"y":72.5},{"c":"New","l":"n","x":45.2,"y":71.6},{"c":"New","l":"n","x":45.8,"y":72.3},{"c":"New","l":"n","x":46.4,"y":72.9},{"c":"New","l":"n","x":47,"y":73.3},{"c":"New","l":"n","x":47.6,"y":71.5},{"c":"New","l":"n","x":48.2,"y":70.3},{"c":"New","l":"n","x":48.8,"y":69.9},{"c":"New","l":"n","x":49.4,"y":69.5},{"c":"New","l":"n","x":50,"y":69.5},{"c":"New","l":"n","x":50.6,"y":69.5},{"c":"New","l":"n","x":51.2,"y":66.7},{"c":"New","l":"n","x":51.8,"y":64.8},{"c":"New","l":"n","x":52.4,"y":63.3},{"c":"New","l":"n","x":53,"y":62.7},{"c":"New","l":"n","x":53.6,"y":62},{"c":"New","l":"n","x":54.2,"y":61.5},{"c":"New","l":"n","x":54.8,"y":61.2},{"c":"New","l":"n","x":55.4,"y":61},{"c":"New","l":"n","x":56,"y":60.7},{"c":"New","l":"n","x":56.6,"y":60.5},{"c":"New","l":"n","x":57.2,"y":60.2},{"c":"New","l":"n","x":57.8,"y":60},{"c":"New","l":"n","x":58.4,"y":59.7},{"c":"New","l":"n","x":59,"y":59.5},{"c":"New","l":"n","x":59.6,"y":59.7},{"c":"New","l":"n","x":60.2,"y":60},{"c":"New","l":"n","x":60.8,"y":60.3},{"c":"New","l":"n","x":61.4,"y":60.5},{"c":"New","l":"n","x":62,"y":60.5}
]},
"data":{"name":"d"},
"encoding":{
 "color":{"field":"c","type":"nominal",
  "scale":{"domain":["CL 1","CL 2","CL 3","CL 4","CL 5","New"],"range":["#ff3c3c","#33c633","#3c91f0","#c83cf0","#3ce6e6","#2a2ab4"]},
  "legend":{"orient":"none","legendX":462,"legendY":18,"title":null,"padding":6,"fillColor":"white","strokeColor":"#555555",
   "symbolSize":81,"symbolStrokeWidth":1,"symbolOffset":35,"labelOffset":-24,"labelAlign":"right","rowPadding":10.3,
   "labelFont":"DejaVu Sans Mono","labelFontSize":9,"labelFontWeight":"bold","labelColor":"black",
   "encode":{"symbols":{"update":{"shape":{"signal":"datum.value === 'New' ? 'M-0.8,0H0.8M0,-0.8V0.8' : 'M-3,0H3'"},"fill":{"value":"transparent"}}}}}
 }
},
"layer":[
 {"transform":[{"filter":"datum.c !== 'New'"}],
  "mark":{"type":"line","strokeWidth":1},
  "encoding":{
   "x":{"field":"x","type":"quantitative","scale":{"domain":[2,62.5],"range":[40.4,462.5],"nice":false,"zero":false},
     "axis":{"orient":"bottom","offset":-118.5,"values":[2,8,12.5,18.75,25,31.25,37.5,43.75,50,56.25],"labelExpr":"format(1/datum.value,'.3~g')","tickSize":-4,"tickColor":"#333333","domainColor":"#8c8c8c","domainWidth":2,"labelFont":"DejaVu Sans Mono","labelFontSize":9,"labelFontWeight":"bold","labelColor":"black","labelPadding":12,"labelFlush":false,"labelOverlap":false,"title":"bpp","titleFont":"DejaVu Sans Mono","titleFontSize":9,"titleFontWeight":"bold","titleColor":"black","titleY":27,"titleBaseline":"alphabetic","zindex":1}},
   "y":{"field":"y","type":"quantitative","scale":{"domain":[0,341],"range":[359.5,18.5],"nice":false,"zero":false,"clamp":true},
     "axis":{"orient":"left","offset":-40.4,"labels":false,"ticks":false,"domainColor":"#8c8c8c","domainWidth":2,"title":"ATTENTION","titleFont":"DejaVu Sans Mono","titleFontSize":9,"titleFontWeight":"bold","titleColor":"black","titleX":-9,"titleBaseline":"middle","zindex":1}},
   "detail":{"field":"l"}
  }},
 {"transform":[{"filter":"datum.c === 'New'"}],
  "mark":{"type":"line","strokeWidth":1},
  "encoding":{
   "x":{"field":"x","type":"quantitative","axis":{"orient":"top","offset":-18.5,"values":[2,8,12.5,18.75,25,31.25,37.5,43.75,50,56.25],"labels":false,"tickSize":-4,"tickColor":"#333333","domainColor":"#8c8c8c","domainWidth":2,"title":null,"zindex":1}},
   "y":{"field":"y","type":"quantitative","axis":{"orient":"right","offset":-88.5,"labels":false,"ticks":false,"domainColor":"#8c8c8c","domainWidth":2,"title":null,"zindex":1}}
  }},
 {"transform":[{"filter":"datum.c === 'New'"}],
  "mark":{"type":"point","shape":"M-1,0H1M0,-1V1","filled":false,"size":49,"strokeWidth":1,"opacity":1},
  "encoding":{
   "x":{"field":"x","type":"quantitative","axis":null},
   "y":{"field":"y","type":"quantitative","axis":null}
  }}
],
"resolve":{"axis":{"x":"independent","y":"independent"}}
}
